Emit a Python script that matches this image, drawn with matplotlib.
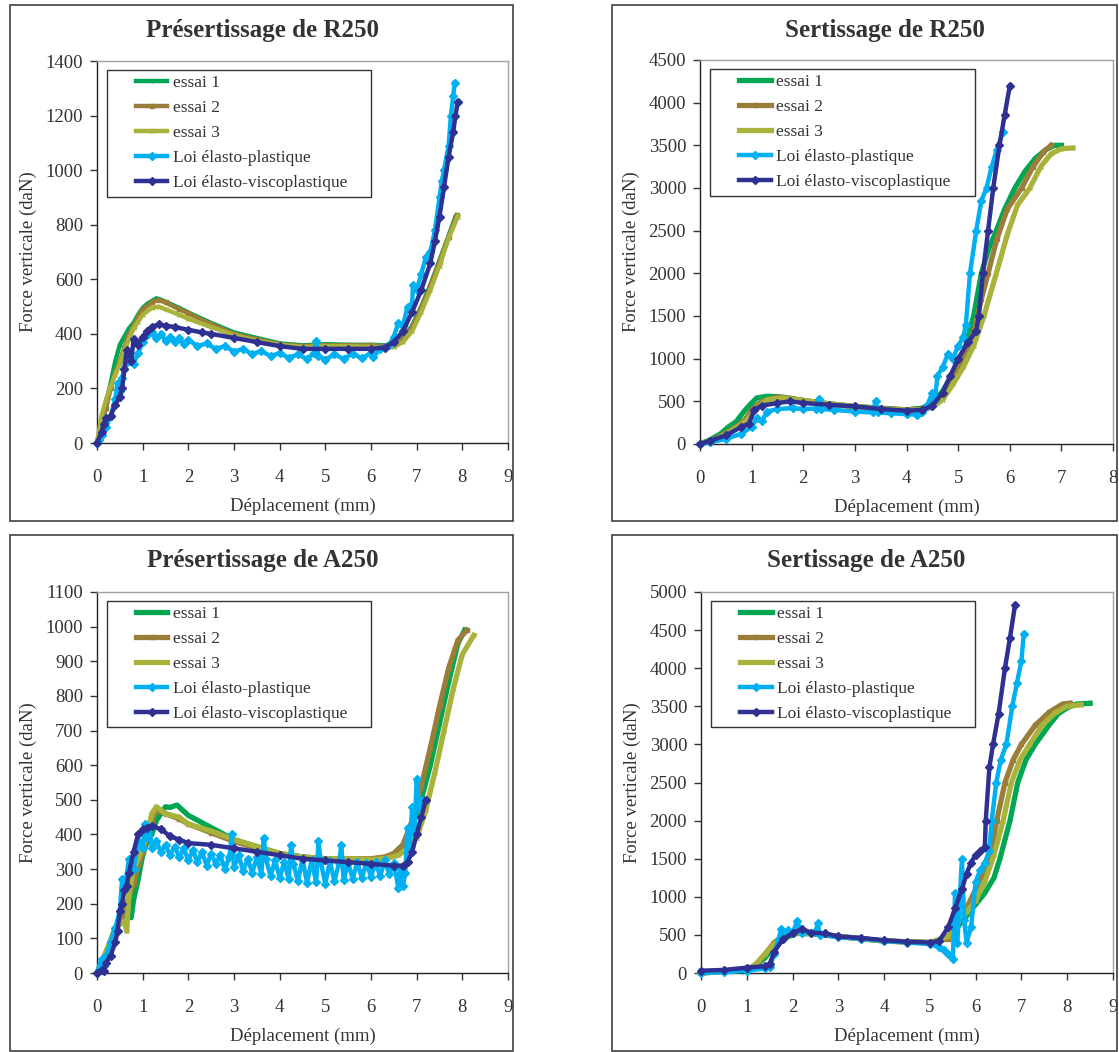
import matplotlib
matplotlib.use("Agg")
import matplotlib.pyplot as plt
from matplotlib.patches import Rectangle

# ── Data ──────────────────────────────────────────────────────────────────────

LABELS = ["essai 1", "essai 2", "essai 3",
          "Loi élasto-plastique", "Loi élasto-viscoplastique"]

# Présertissage de R250
pre_r250_e1 = [(0, 0), (0.1, 80), (0.2, 150), (0.3, 220), (0.4, 300), (0.5, 360),
               (0.6, 390), (0.7, 420), (0.8, 440), (0.9, 470), (1.0, 495), (1.1, 510),
               (1.2, 520), (1.3, 530), (1.4, 525), (1.6, 510), (1.8, 495), (2.0, 478),
               (2.5, 440), (3.0, 405), (3.5, 385), (4.0, 365), (4.5, 358), (5.0, 362),
               (5.5, 360), (6.0, 360), (6.3, 358), (6.5, 365), (6.7, 385), (6.9, 430),
               (7.1, 500), (7.3, 580), (7.5, 670), (7.7, 760), (7.85, 830)]
pre_r250_e2 = [(0, 0), (0.1, 60), (0.2, 130), (0.3, 200), (0.4, 260), (0.5, 300),
               (0.6, 350), (0.7, 400), (0.8, 430), (0.9, 460), (1.0, 490), (1.2, 515),
               (1.35, 525), (1.5, 515), (1.8, 490), (2.0, 475), (2.5, 435), (3.0, 400),
               (3.5, 380), (4.0, 362), (4.5, 355), (5.0, 358), (5.5, 358), (6.0, 358),
               (6.3, 355), (6.5, 360), (6.7, 380), (6.9, 425), (7.1, 495), (7.3, 575),
               (7.5, 665), (7.7, 755), (7.88, 835)]
pre_r250_e3 = [(0, 0), (0.1, 100), (0.2, 160), (0.3, 210), (0.4, 250), (0.5, 290),
               (0.6, 340), (0.7, 380), (0.8, 420), (0.9, 445), (1.0, 470), (1.2, 495),
               (1.35, 500), (1.5, 490), (1.8, 470), (2.0, 455), (2.5, 425), (3.0, 395),
               (3.5, 375), (4.0, 360), (4.5, 352), (5.0, 355), (5.5, 355), (6.0, 352),
               (6.3, 350), (6.5, 352), (6.7, 370), (6.9, 410), (7.1, 480), (7.3, 560),
               (7.5, 650), (7.7, 750), (7.9, 830)]
pre_r250_ep = [(0, 0), (0.05, 10), (0.1, 30), (0.2, 60), (0.3, 100), (0.4, 160),
               (0.45, 220), (0.5, 190), (0.55, 240), (0.6, 270), (0.7, 300), (0.8, 290),
               (0.9, 330), (1.0, 370), (1.1, 395), (1.2, 405), (1.3, 385), (1.4, 400),
               (1.5, 375), (1.6, 390), (1.7, 370), (1.8, 385), (1.9, 362), (2.0, 378),
               (2.2, 355), (2.4, 365), (2.6, 345), (2.8, 355), (3.0, 335), (3.2, 345),
               (3.4, 325), (3.6, 338), (3.8, 318), (4.0, 330), (4.2, 312), (4.4, 325),
               (4.6, 308), (4.75, 330), (4.8, 375), (4.85, 320), (5.0, 305), (5.2, 325),
               (5.4, 308), (5.6, 328), (5.8, 310), (6.0, 330), (6.05, 315), (6.2, 345),
               (6.4, 360), (6.5, 390), (6.6, 440), (6.7, 430), (6.8, 500), (6.9, 510),
               (6.92, 580), (7.0, 560), (7.1, 620), (7.2, 680), (7.3, 700), (7.4, 780),
               (7.5, 900), (7.55, 960), (7.6, 1000), (7.7, 1090), (7.75, 1200),
               (7.8, 1270), (7.83, 1320)]
pre_r250_evp = [(0, 0), (0.1, 40), (0.15, 70), (0.2, 90), (0.3, 100), (0.4, 140),
                (0.5, 170), (0.55, 200), (0.6, 270), (0.65, 340), (0.7, 330), (0.75, 300),
                (0.8, 380), (0.9, 360), (1.0, 390), (1.1, 410), (1.2, 425), (1.35, 435),
                (1.5, 430), (1.7, 425), (2.0, 415), (2.3, 405), (2.5, 400), (3.0, 385),
                (3.5, 370), (4.0, 355), (4.5, 345), (5.0, 345), (5.5, 345), (6.0, 345),
                (6.3, 350), (6.5, 370), (6.7, 410), (6.9, 480), (7.1, 560), (7.3, 660),
                (7.4, 740), (7.5, 830), (7.6, 940), (7.7, 1050), (7.8, 1140),
                (7.85, 1200), (7.9, 1250)]

# Sertissage de R250
ser_r250_e1 = [(0, 0), (0.2, 50), (0.4, 120), (0.55, 200), (0.7, 260), (0.85, 380),
               (1.0, 480), (1.1, 540), (1.3, 560), (1.6, 550), (2.0, 510), (2.5, 470),
               (3.0, 440), (3.5, 420), (4.0, 400), (4.3, 420), (4.5, 480), (4.7, 620),
               (4.9, 830), (5.1, 1050), (5.3, 1500), (5.45, 2000), (5.6, 2300),
               (5.74, 2500), (5.9, 2750), (6.1, 3000), (6.3, 3200), (6.5, 3350),
               (6.7, 3450), (6.87, 3500), (7.0, 3500)]
ser_r250_e2 = [(0, 0), (0.3, 60), (0.5, 130), (0.7, 200), (0.9, 300), (1.0, 400),
               (1.2, 500), (1.5, 550), (1.8, 530), (2.0, 510), (2.5, 470), (3.0, 440),
               (3.5, 415), (4.0, 400), (4.3, 410), (4.5, 450), (4.7, 560), (4.9, 760),
               (5.1, 1000), (5.3, 1300), (5.45, 1700), (5.58, 2000), (5.75, 2400),
               (5.95, 2750), (6.23, 3000), (6.45, 3250), (6.65, 3420), (6.8, 3500)]
ser_r250_e3 = [(0, 0), (0.3, 50), (0.6, 150), (0.9, 270), (1.1, 420), (1.3, 520),
               (1.6, 540), (2.0, 510), (2.5, 470), (3.0, 440), (3.5, 410), (4.0, 395),
               (4.3, 400), (4.5, 430), (4.7, 520), (4.9, 700), (5.1, 900), (5.3, 1150),
               (5.5, 1500), (5.74, 2000), (5.95, 2450), (6.15, 2800), (6.39, 3000),
               (6.6, 3250), (6.8, 3400), (7.0, 3460), (7.22, 3470)]
ser_r250_ep = [(0, 0), (0.2, 20), (0.5, 60), (0.8, 120), (1.0, 200), (1.1, 300),
               (1.2, 270), (1.3, 380), (1.5, 410), (1.8, 420), (2.0, 410), (2.25, 415),
               (2.3, 530), (2.35, 410), (2.6, 400), (3.0, 380), (3.35, 370), (3.4, 500),
               (3.45, 370), (3.7, 360), (4.0, 350), (4.2, 345), (4.3, 380), (4.4, 450),
               (4.5, 600), (4.55, 520), (4.6, 800), (4.7, 900), (4.8, 1050), (4.9, 1000),
               (5.0, 1150), (5.1, 1250), (5.15, 1400), (5.23, 2000), (5.35, 2500),
               (5.45, 2850), (5.55, 3000), (5.65, 3250), (5.75, 3450), (5.87, 3660)]
ser_r250_evp = [(0, 0), (0.2, 40), (0.5, 100), (0.8, 200), (0.95, 240), (1.05, 400),
                (1.2, 450), (1.5, 480), (1.75, 500), (2.0, 480), (2.5, 460), (3.0, 440),
                (3.5, 410), (4.0, 390), (4.3, 400), (4.5, 450), (4.7, 600), (4.85, 800),
                (5.0, 1000), (5.2, 1200), (5.35, 1320), (5.4, 1500), (5.48, 2000),
                (5.58, 2500), (5.68, 3000), (5.8, 3500), (5.9, 3850), (6.0, 4195)]

# Présertissage de A250
pre_a250_e1 = [(0, 0), (0.2, 60), (0.4, 130), (0.5, 150), (0.6, 170), (0.7, 180),
               (0.75, 160), (0.8, 210), (0.9, 270), (1.0, 340), (1.1, 380), (1.2, 400),
               (1.3, 440), (1.4, 460), (1.5, 480), (1.6, 478), (1.75, 485), (2.0, 455),
               (2.5, 420), (3.0, 385), (3.5, 365), (4.0, 345), (4.5, 335), (5.0, 330),
               (5.5, 328), (6.0, 325), (6.3, 330), (6.5, 345), (6.7, 370), (6.9, 420),
               (7.1, 500), (7.3, 600), (7.5, 720), (7.7, 840), (7.9, 950), (8.05, 990)]
pre_a250_e2 = [(0, 0), (0.2, 60), (0.4, 120), (0.6, 180), (0.8, 260), (1.0, 350),
               (1.1, 400), (1.2, 440), (1.3, 470), (1.5, 460), (1.8, 445), (2.0, 430),
               (2.5, 405), (3.0, 380), (3.5, 360), (4.0, 345), (4.5, 335), (5.0, 330),
               (5.5, 330), (6.0, 330), (6.3, 335), (6.5, 345), (6.7, 370), (6.9, 440),
               (7.1, 540), (7.3, 650), (7.5, 770), (7.7, 880), (7.9, 960), (8.1, 990)]
pre_a250_e3 = [(0, 0), (0.2, 60), (0.4, 130), (0.6, 150), (0.65, 120), (0.7, 230),
               (0.8, 300), (1.0, 360), (1.1, 400), (1.2, 460), (1.3, 480), (1.5, 460),
               (1.8, 450), (2.0, 430), (2.5, 410), (3.0, 385), (3.5, 365), (4.0, 345),
               (4.5, 335), (5.0, 330), (5.5, 330), (6.0, 328), (6.3, 330), (6.6, 340),
               (6.8, 360), (7.0, 390), (7.2, 470), (7.4, 580), (7.6, 700), (7.8, 820),
               (8.0, 920), (8.25, 975)]
pre_a250_ep = [(0, 0), (0.1, 40), (0.15, 20), (0.2, 50), (0.3, 90), (0.4, 130),
               (0.5, 180), (0.55, 270), (0.6, 240), (0.7, 330), (0.8, 300), (0.9, 380),
               (1.0, 360), (1.05, 430), (1.1, 390), (1.15, 420), (1.2, 360), (1.3, 380),
               (1.4, 350), (1.5, 370), (1.6, 340), (1.7, 365), (1.8, 335), (1.9, 360),
               (2.0, 325), (2.1, 355), (2.2, 320), (2.3, 350), (2.4, 310), (2.5, 345),
               (2.6, 315), (2.7, 340), (2.8, 300), (2.9, 335), (2.95, 400), (3.0, 305),
               (3.1, 340), (3.2, 295), (3.3, 330), (3.4, 290), (3.5, 335), (3.6, 285),
               (3.65, 390), (3.7, 330), (3.8, 280), (3.9, 325), (4.0, 275), (4.1, 320),
               (4.2, 270), (4.25, 370), (4.3, 315), (4.4, 265), (4.5, 330), (4.6, 260),
               (4.7, 325), (4.8, 262), (4.85, 380), (4.9, 320), (5.0, 258), (5.1, 322),
               (5.2, 265), (5.3, 318), (5.35, 370), (5.4, 268), (5.5, 318), (5.6, 272),
               (5.7, 320), (5.8, 275), (5.9, 318), (6.0, 278), (6.1, 320), (6.2, 280),
               (6.3, 325), (6.4, 285), (6.5, 318), (6.6, 245), (6.65, 300), (6.7, 250),
               (6.75, 290), (6.8, 420), (6.85, 360), (6.9, 480), (6.95, 400),
               (7.0, 560), (7.05, 480), (7.1, 500)]
pre_a250_evp = [(0, 0), (0.1, 10), (0.15, 5), (0.2, 30), (0.3, 50), (0.4, 90),
                (0.45, 120), (0.5, 180), (0.55, 200), (0.6, 240), (0.65, 250), (0.7, 290),
                (0.8, 350), (0.9, 400), (1.0, 415), (1.1, 420), (1.2, 425), (1.4, 415),
                (1.6, 395), (1.8, 385), (2.0, 375), (2.5, 370), (3.0, 360), (3.5, 350),
                (4.0, 340), (4.5, 330), (5.0, 325), (5.5, 320), (6.0, 315), (6.5, 310),
                (6.7, 310), (6.8, 320), (6.9, 350), (7.0, 400), (7.1, 450), (7.2, 500)]

# Sertissage de A250
ser_a250_e1 = [(0, 0), (0.5, 20), (1.0, 50), (1.2, 100), (1.4, 200), (1.6, 350),
               (1.8, 450), (2.0, 500), (2.2, 550), (2.5, 520), (3.0, 480), (3.5, 450),
               (4.0, 420), (4.5, 410), (5.0, 400), (5.2, 420), (5.4, 480), (5.6, 600),
               (5.8, 750), (6.0, 900), (6.2, 1050), (6.4, 1250), (6.53, 1500),
               (6.75, 2000), (6.92, 2500), (7.1, 2800), (7.3, 3000), (7.6, 3250),
               (7.8, 3400), (8.0, 3480), (8.2, 3530), (8.5, 3540)]
ser_a250_e2 = [(0, 0), (1.0, 40), (1.2, 100), (1.4, 250), (1.6, 400), (1.8, 480),
               (2.0, 530), (2.5, 520), (3.0, 480), (3.5, 450), (4.0, 420), (4.5, 410),
               (5.0, 400), (5.4, 450), (5.6, 650), (5.8, 850), (6.0, 1100), (6.2, 1350),
               (6.31, 1500), (6.46, 2000), (6.64, 2500), (6.82, 2800), (7.0, 3000),
               (7.3, 3250), (7.6, 3420), (7.9, 3530), (8.05, 3540)]
ser_a250_e3 = [(0, 0), (1.0, 40), (1.2, 120), (1.4, 250), (1.6, 380), (1.8, 470),
               (2.0, 520), (2.5, 510), (3.0, 480), (3.5, 450), (4.0, 420), (4.5, 405),
               (5.0, 400), (5.4, 480), (5.6, 650), (5.8, 800), (6.0, 950), (6.2, 1200),
               (6.4, 1550), (6.6, 2000), (6.78, 2500), (6.97, 2800), (7.18, 3000),
               (7.45, 3250), (7.75, 3420), (8.0, 3500), (8.3, 3520)]
ser_a250_ep = [(0, 0), (0.5, 10), (1.0, 30), (1.4, 60), (1.5, 80), (1.6, 250),
               (1.7, 450), (1.75, 580), (1.8, 500), (1.9, 560), (2.0, 520), (2.1, 680),
               (2.2, 520), (2.5, 540), (2.55, 650), (2.6, 500), (3.0, 470), (3.5, 450),
               (4.0, 420), (4.5, 400), (5.0, 380), (5.2, 340), (5.3, 300), (5.4, 250),
               (5.5, 180), (5.55, 1050), (5.6, 400), (5.7, 1500), (5.75, 700),
               (5.8, 400), (5.9, 600), (6.0, 1200), (6.1, 1350), (6.2, 1450),
               (6.3, 1600), (6.35, 2000), (6.45, 2500), (6.55, 2800), (6.67, 3000),
               (6.8, 3500), (6.9, 3800), (7.0, 4100), (7.05, 4450)]
ser_a250_evp = [(0, 30), (0.5, 40), (1.0, 70), (1.4, 90), (1.5, 120), (1.6, 280),
                (1.8, 450), (2.0, 520), (2.2, 580), (2.4, 530), (2.7, 520), (3.0, 480),
                (3.5, 460), (4.0, 430), (4.5, 410), (5.0, 400), (5.2, 420), (5.4, 600),
                (5.55, 850), (5.7, 1100), (5.8, 1300), (5.9, 1450), (6.0, 1550),
                (6.1, 1600), (6.2, 1650), (6.22, 2000), (6.3, 2700), (6.38, 3000),
                (6.5, 3400), (6.64, 4000), (6.75, 4400), (6.86, 4830)]

# ── Styles ────────────────────────────────────────────────────────────────────

TXT = "#333333"
SERIF = ["Liberation Serif", "DejaVu Serif"]
COLORS = ["#00a651", "#9b7d3a", "#a9b23a", "#00b0f0", "#2e3192"]
MARKERS = [".", "s", "x", "D", "D"]

plt.rcParams.update({
    "font.family": SERIF,
    "font.size": 13.5,
    "text.color": TXT,
    "axes.labelcolor": TXT,
    "xtick.color": TXT,
    "ytick.color": TXT,
})

PANELS = [
    dict(title="Présertissage de R250", series=[pre_r250_e1, pre_r250_e2, pre_r250_e3,
                                                 pre_r250_ep, pre_r250_evp],
         xmax=9, ymax=1400, ystep=200, rect=[97, 61, 508, 443],
         box=[10, 5, 513, 521], tpos=(263, 30), thin=True),
    dict(title="Sertissage de R250", series=[ser_r250_e1, ser_r250_e2, ser_r250_e3,
                                              ser_r250_ep, ser_r250_evp],
         xmax=8, ymax=4500, ystep=500, rect=[700, 60, 1113, 444],
         box=[612, 5, 1117, 521], tpos=(885, 30), thin=False),
    dict(title="Présertissage de A250", series=[pre_a250_e1, pre_a250_e2, pre_a250_e3,
                                                 pre_a250_ep, pre_a250_evp],
         xmax=9, ymax=1100, ystep=100, rect=[97, 592, 508, 973],
         box=[10, 535, 513, 1051], tpos=(263, 560), thin=False),
    dict(title="Sertissage de A250", series=[ser_a250_e1, ser_a250_e2, ser_a250_e3,
                                              ser_a250_ep, ser_a250_evp],
         xmax=9, ymax=5000, ystep=500, rect=[701, 592, 1113, 973],
         box=[612, 535, 1117, 1051], tpos=(866, 560), thin=False),
]

W, H = 1119, 1052
fig = plt.figure(figsize=(W / 100, H / 100), dpi=100)
fig.patch.set_facecolor("white")


def px_rect(x0, y0, x1, y1):
    return [x0 / W, 1 - y1 / H, (x1 - x0) / W, (y1 - y0) / H]


for p in PANELS:
    # outer frame of each chart
    bx = px_rect(*p["box"])
    fig.patches.append(Rectangle((bx[0], bx[1]), bx[2], bx[3], transform=fig.transFigure,
                                 fill=False, edgecolor="#404040", linewidth=1.2))
    fig.text(p["tpos"][0] / W, 1 - p["tpos"][1] / H, p["title"], ha="center",
             va="center", fontsize=18, fontweight="bold", color=TXT)

    ax = fig.add_axes(px_rect(*p["rect"]))
    handles = []
    for i, data in enumerate(p["series"]):
        xs = [d[0] for d in data]
        ys = [d[1] for d in data]
        if i < 3:
            lw = 3.2 if p["thin"] else 3.8
            ms = 3.5 if p["thin"] else 3.0
        else:
            lw, ms = 3.2, 3.8
        (h,) = ax.plot(xs, ys, color=COLORS[i], lw=lw, marker=MARKERS[i], ms=ms,
                       mew=1.0, label=LABELS[i], zorder=2 + i, clip_on=False,
                       solid_joinstyle="round")
        handles.append(h)

    ax.set_xlim(0, p["xmax"])
    ax.set_ylim(0, p["ymax"])
    ax.set_xticks(range(0, p["xmax"] + 1))
    ax.set_yticks(range(0, p["ymax"] + 1, p["ystep"]))
    ax.tick_params(direction="out", length=5, width=1, labelsize=13.5)
    ax.tick_params(axis="x", pad=14)
    ax.tick_params(axis="y", pad=5)
    for side in ("left", "bottom"):
        ax.spines[side].set_color("#222222")
        ax.spines[side].set_linewidth(1.0)
    for side in ("top", "right"):
        ax.spines[side].set_color("#a8a0a0")
        ax.spines[side].set_linewidth(1.0)

    ax.set_xlabel("Déplacement (mm)", fontsize=13.5, labelpad=8)
    ax.set_ylabel("Force verticale (daN)", fontsize=13.5, labelpad=6)

    # legend box drawn separately (wide left margin like the original)
    ax.add_patch(Rectangle((0.024, 0.645), 0.642, 0.331, transform=ax.transAxes,
                           fill=True, facecolor="white", edgecolor="#333333",
                           linewidth=1.0, zorder=10))
    leg = ax.legend(handles=handles, loc="upper left", bbox_to_anchor=(0.087, 0.972),
                    frameon=False, fontsize=12.5, handlelength=1.8, handletextpad=0.33,
                    labelspacing=0.5, borderpad=0.2, borderaxespad=0.0)
    leg.set_zorder(11)

fig.savefig("out.png", dpi=100)
